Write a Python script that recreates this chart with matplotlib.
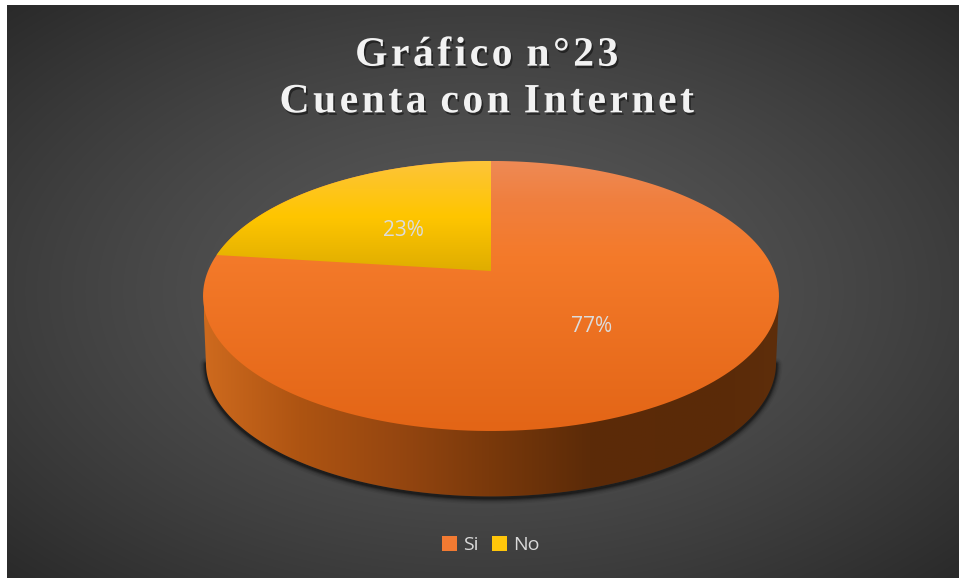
import numpy as np
import matplotlib
matplotlib.use("Agg")
import matplotlib.pyplot as plt
from matplotlib.path import Path
from matplotlib.patches import PathPatch, Patch
from matplotlib.colors import to_rgb
import matplotlib.patheffects as pe

categories = ["Si", "No"]
shares = [77, 23]
title_lines = ["Gráfico n°23", "Cuenta con Internet"]

W, H = 959, 578
fig = plt.figure(figsize=(W / 100, H / 100), dpi=100, facecolor="white")
ax = fig.add_axes([0, 0, 1, 1])
ax.axis("off")

# ---- projection of the unit disc onto the tilted pie (perspective ellipse)
CX, CY, A, B, K = 491.0, 271.0, 283.0, 130.4, 0.185
DEPTH = 67.0


def project(x, y, scale=1.0, drop=0.0):
    d = 1 + K * y
    return CX + scale * A * x / d, CY - scale * B * y / d + drop


def wedge_path(a0, a1):
    t = np.linspace(a0, a1, 240)
    px, py = project(np.sin(t), np.cos(t))
    pts = np.column_stack([np.r_[CX, px, CX], np.r_[CY, py, CY]])
    return Path(pts, closed=True)


def vstops(stops, n=400):
    pos = [s[0] for s in stops]
    cols = np.array([to_rgb(s[1]) for s in stops])
    u = np.linspace(0, 1, n)
    return np.stack([np.interp(u, pos, cols[:, i]) for i in range(3)], axis=-1)


def gradient(path, stops, extent, vertical=True, zorder=3):
    g = vstops(stops)
    img = g[:, None, :] if vertical else g[None, :, :]
    im = ax.imshow(img, extent=extent, aspect="auto", zorder=zorder,
                   interpolation="bilinear", origin="upper")
    patch = PathPatch(path, transform=ax.transData, fc="none", ec="none")
    ax.add_patch(patch)
    im.set_clip_path(patch)


# ---- background
yy, xx = np.mgrid[5:H, 7:W]
r = np.sqrt(((xx - 483) / 476.0) ** 2 + ((yy - 291) / 286.0) ** 2) / np.sqrt(2)
v = (90 - 48 * np.clip(r, 0, 1) ** 1.4) / 255.0
ax.imshow(np.dstack([v, v, v]), extent=(7, W, H, 5), aspect="auto", zorder=0,
          interpolation="bilinear")

# ---- wall of the pie
t = np.linspace(0, 2 * np.pi, 720)
bx, by = project(np.sin(t), np.cos(t), 0.99, DEPTH)
tx, ty = project(np.sin(t), np.cos(t))
il, ir = np.argmin(bx), np.argmax(bx)
lower = np.arange(ir, il + 1)
wall = np.column_stack([
    np.r_[tx[np.argmax(tx)], bx[lower], tx[np.argmin(tx)]],
    np.r_[ty[np.argmax(tx)], by[lower], ty[np.argmin(tx)]],
])
# soft shadow beneath the wall
shadow = wall[wall[:, 1] > 325]
for lw, alpha in [(9, 0.05), (7, 0.08), (5, 0.12), (3.5, 0.2), (2, 0.3)]:
    ax.plot(shadow[:, 0], shadow[:, 1] + 1.5, color="black", lw=lw, alpha=alpha,
            zorder=1, solid_capstyle="round")
gradient(Path(np.vstack([wall, wall[0]]), closed=True),
         [(0, "#CE6A1E"), (0.165, "#AE5412"), (0.34, "#954610"),
          (0.495, "#7A390B"), (0.67, "#5C2B08"), (0.90, "#5A2A08"), (1, "#5E2E0B")],
         (204, 779, 500, 290), vertical=False, zorder=2)

# ---- top face, from the shares (Si lies under No so no seam shows)
fr = np.cumsum([0] + shares) / np.sum(shares) * 2 * np.pi
disc_path = wedge_path(fr[0], fr[2])
no_path = wedge_path(fr[1], fr[2])
gradient(disc_path, [(0, "#EE8A55"), (0.15, "#F07F3E"), (0.35, "#F47A2A"), (1, "#E36516")],
         (200, 782, 431, 161), zorder=3)
gradient(no_path, [(0, "#FDC43A"), (0.5, "#FFC600"), (1, "#DFAD00")],
         (200, 495, 271, 161), zorder=4)

# ---- data labels
label_font = ["Open Sans", "DejaVu Sans"]
ax.text(592, 327, f"{shares[0]}%", color="#DCDCDC", fontsize=15, family=label_font,
        ha="center", va="center", zorder=6)
ax.text(403, 230, f"{shares[1]}%", color="#DCDCDC", fontsize=15, family=label_font,
        ha="center", va="center", zorder=6)


# ---- title (letter-spaced with hair spaces)
def spaced(line):
    return "\u200a ".join("\u200a".join(word) for word in line.split(" "))


ax.text(486.5, 79, "\n".join(spaced(l) for l in title_lines), color="#F2F2F2", fontsize=30,
        family=["Liberation Serif", "DejaVu Serif"], weight="bold", ha="center", va="center",
        linespacing=1.3, zorder=6,
        path_effects=[pe.SimplePatchShadow(offset=(1.2, -1.8), shadow_rgbFace="black", alpha=0.45),
                      pe.Normal()])

# ---- legend
handles = [Patch(fc="#F27A32", ec="none", label=categories[0]),
           Patch(fc="#FFC60A", ec="none", label=categories[1])]
leg = ax.legend(handles=handles, ncol=2, frameon=False, loc="center",
                bbox_to_anchor=(491, 545), bbox_transform=ax.transData,
                prop={"family": "Open Sans", "size": 14}, labelcolor="#D9D9D9",
                handlelength=0.78, handleheight=0.78, handletextpad=0.3, columnspacing=0.7)
leg.set_zorder(6)

ax.set_xlim(0, W)
ax.set_ylim(H, 0)
fig.savefig("out.png", dpi=100, facecolor="white")
